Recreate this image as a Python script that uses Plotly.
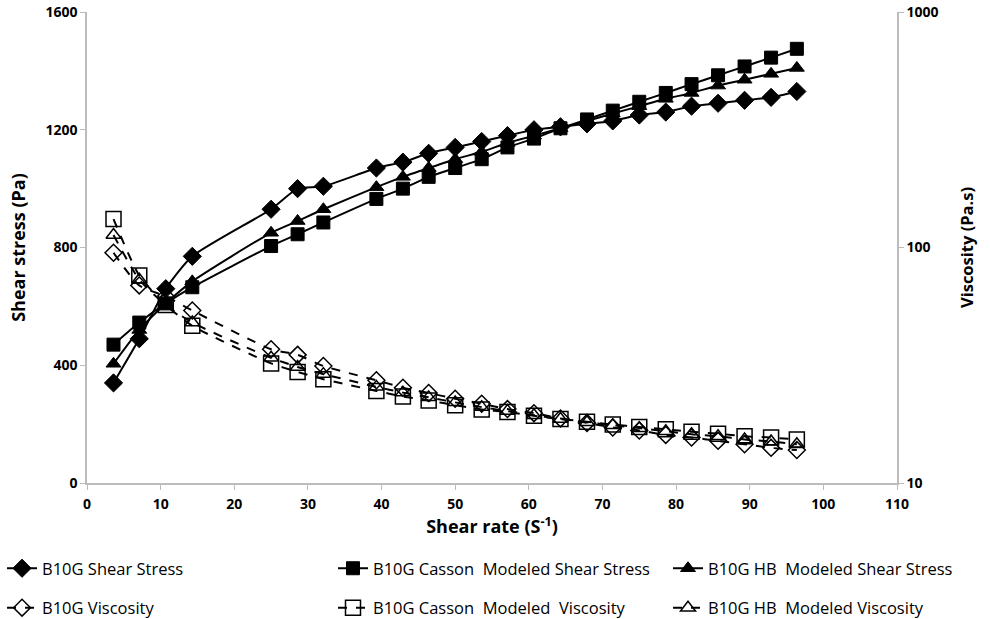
import plotly.graph_objects as go

shear_rate = [3.6, 7.1, 10.7, 14.3, 25.0, 28.6, 32.1, 39.3, 42.9, 46.4, 50.0, 53.6,
              57.1, 60.7, 64.3, 67.9, 71.4, 75.0, 78.6, 82.1, 85.7, 89.3, 92.9, 96.4]

stress_measured = [340, 490, 660, 770, 930, 1000, 1008, 1070, 1090, 1120, 1140, 1160,
                   1180, 1200, 1210, 1220, 1230, 1250, 1260, 1280, 1290, 1300, 1310, 1330]
stress_casson = [470, 545, 610, 665, 805, 845, 885, 965, 1000, 1040, 1070, 1100,
                 1140, 1170, 1205, 1235, 1265, 1295, 1325, 1355, 1385, 1415, 1445, 1475]
stress_hb = [405, 520, 610, 685, 850, 890, 930, 1005, 1040, 1070, 1100, 1125,
             1155, 1180, 1205, 1230, 1255, 1280, 1305, 1325, 1350, 1370, 1390, 1410]

visc_measured = [95, 69, 62, 54, 37, 35, 31.4, 27.3, 25.4, 24.1, 22.8, 21.7,
                 20.6, 19.8, 18.8, 18.0, 17.2, 16.7, 16.0, 15.6, 15.1, 14.6, 14.1, 13.8]
visc_casson = [132, 76, 57, 46.5, 32.2, 29.6, 27.6, 24.6, 23.3, 22.4, 21.4, 20.5,
               20.0, 19.3, 18.7, 18.2, 17.7, 17.3, 16.9, 16.5, 16.2, 15.8, 15.6, 15.3]
visc_hb = [113, 73, 57, 48, 34, 31.1, 29, 25.6, 24.2, 23.1, 22.0, 21.0,
           20.2, 19.4, 18.7, 18.1, 17.6, 17.1, 16.6, 16.1, 15.8, 15.3, 15.0, 14.6]

x_ticks = [0, 10, 20, 30, 40, 50, 60, 70, 80, 90, 100, 110]
y_ticks = [0, 400, 800, 1200, 1600]
y2_ticks = [10, 100, 1000]

names = ["B10G Shear Stress", "B10G Casson  Modeled Shear Stress", "B10G HB  Modeled Shear Stress",
         "B10G Viscosity", "B10G Casson  Modeled  Viscosity", "B10G HB  Modeled Viscosity"]

FONT = "Open Sans, Liberation Sans, Arial, sans-serif"
fig = go.Figure()

solid = [(stress_measured, "diamond", 14), (stress_casson, "square", 13), (stress_hb, "triangle-up", 13)]
dashed = [(visc_measured, "diamond-open", 13), (visc_casson, "square-open", 15), (visc_hb, "triangle-up-open", 13)]
legends = ["legend", "legend2", "legend3"]

for i, ((vals, sym, sz), nm) in enumerate(zip(solid, names[:3])):
    fig.add_trace(go.Scatter(x=shear_rate, y=vals, name=nm, mode="lines+markers",
                             legend=legends[i], legendgroup="s%d" % i, legendrank=1,
                             line=dict(color="black", width=2, shape="spline", smoothing=0.6),
                             marker=dict(symbol=sym, size=sz, color="black",
                                         line=dict(color="black", width=1))))
for i, ((vals, sym, sz), nm) in enumerate(zip(dashed, names[3:])):
    fig.add_trace(go.Scatter(x=shear_rate, y=vals, name=nm, mode="lines+markers", yaxis="y2",
                             legend=legends[i], legendgroup="v%d" % i, legendrank=2,
                             line=dict(color="black", width=2, dash="dash", shape="spline", smoothing=0.6),
                             marker=dict(symbol=sym, size=sz, color="black",
                                         line=dict(color="black", width=1.5))))

axis_common = dict(showgrid=False, zeroline=False, showline=True, linecolor="#bcbcbc", linewidth=1.5,
                   ticks="outside", ticklen=5, tickcolor="#bcbcbc",
                   tickfont=dict(family=FONT, size=14, color="black", weight="bold"))

leg_common = dict(orientation="v", y=-0.1444, yanchor="top", xanchor="left",
                  itemwidth=30, tracegroupgap=15,
                  font=dict(family=FONT, size=16.5, color="black"),
                  bgcolor="rgba(0,0,0,0)", borderwidth=0)

fig.update_layout(
    width=990, height=619,
    margin=dict(l=87, r=93, t=12, b=136, autoexpand=False),
    plot_bgcolor="white", paper_bgcolor="white",
    font=dict(family=FONT, color="black"),
    xaxis=dict(range=[0, 110], tickvals=x_ticks, ticklabelstandoff=2,
               title=dict(text="Shear rate (S<sup>-1</sup>)", font=dict(size=18, weight="bold"), standoff=9),
               **axis_common),
    yaxis=dict(range=[0, 1600], tickvals=y_ticks,
               title=dict(text="Shear stress (Pa)", font=dict(size=18, weight="bold"), standoff=15),
               **axis_common),
    yaxis2=dict(type="log", range=[1, 3], overlaying="y", side="right",
                tickvals=y2_ticks, ticktext=[str(v) for v in y2_ticks],
                title=dict(text="Viscosity (Pa.s)", font=dict(size=16.5, weight="bold"), standoff=24),
                **axis_common),
    legend=dict(x=-0.1049, **leg_common),
    legend2=dict(x=0.3037, **leg_common),
    legend3=dict(x=0.7173, **leg_common),
    showlegend=True,
)

fig.write_html("out.html")
